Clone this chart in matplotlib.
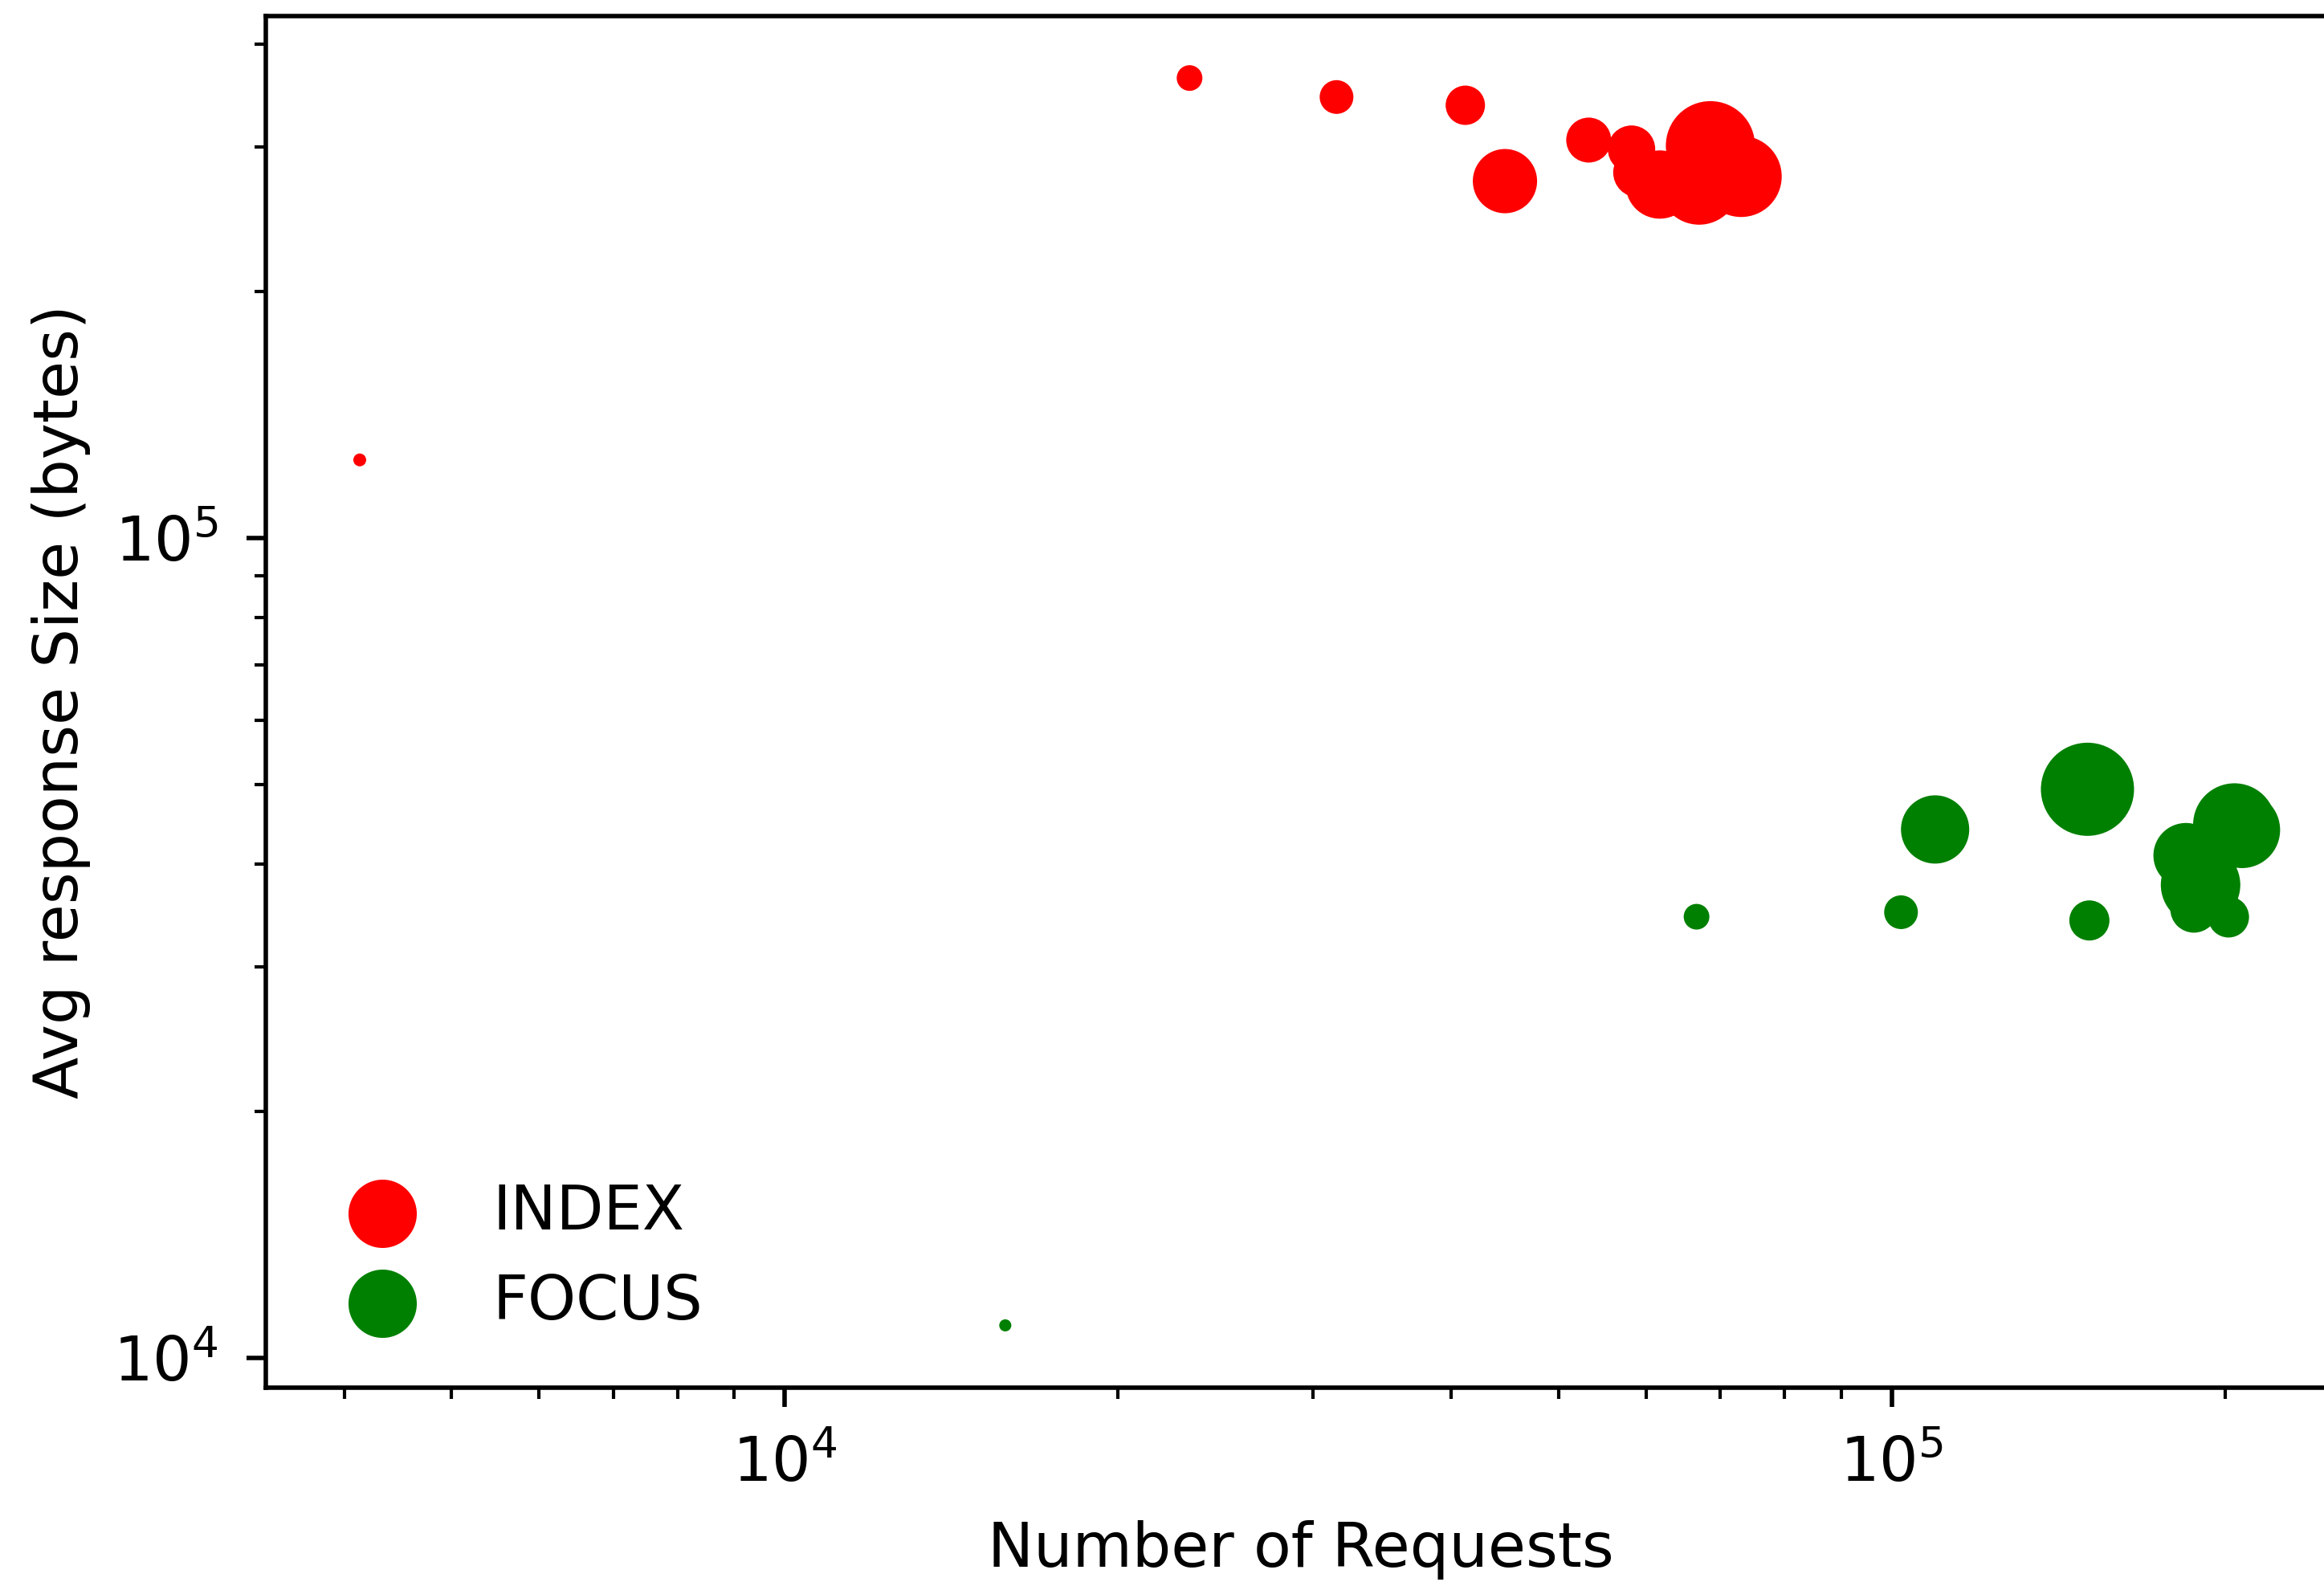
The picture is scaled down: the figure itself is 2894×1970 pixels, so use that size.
import matplotlib
matplotlib.use('Agg')
from matplotlib import pyplot as plt

plt.rcParams['font.size'] = 11

# INDEX series: number of requests, avg response size, marker area
index_requests = [4131, 23210, 31510, 41190, 44730, 53240, 58200, 59000, 61730, 66990, 68580, 73110]
index_size = [124550, 364000, 345100, 337200, 272500, 305800, 298100, 279200, 269900, 269900, 301000, 276100]
index_area = [5.3, 21.2, 36.6, 49.8, 132.7, 65.0, 72.2, 79.7, 149.8, 207.4, 255.5, 211.5]

# FOCUS series
focus_requests = [15820, 66630, 101950, 109440, 150250, 150850, 203990, 207200, 184400, 190100, 201500, 187500]
focus_size = [10960, 34530, 34970, 44120, 49390, 34170, 44720, 44060, 41010, 37760, 34500, 35290]
focus_area = [4.7, 21.2, 36.6, 149.8, 279.0, 51.8, 220.0, 187.1, 136.0, 203.2, 53.9, 72.2]

fig = plt.figure(figsize=(2894 / 500, 1970 / 500), dpi=500)
ax = fig.add_axes([0.1143, 0.1228, 0.8909, 0.8673])
ax.set_xscale('log')
ax.set_yscale('log')

ax.scatter(index_requests, index_size, s=index_area, c='red', linewidths=0, label='INDEX')
ax.scatter(focus_requests, focus_size, s=focus_area, c='green', linewidths=0, label='FOCUS')

ax.tick_params(axis='both', which='both', pad=5)
ax.set_xlabel('Number of Requests', labelpad=4.6)
ax.set_ylabel('Avg response Size (bytes)')

leg = ax.legend(loc='lower left', frameon=False)
for h in leg.legend_handles:
    h.set_sizes([150])

fig.savefig('out.png', dpi=500)
